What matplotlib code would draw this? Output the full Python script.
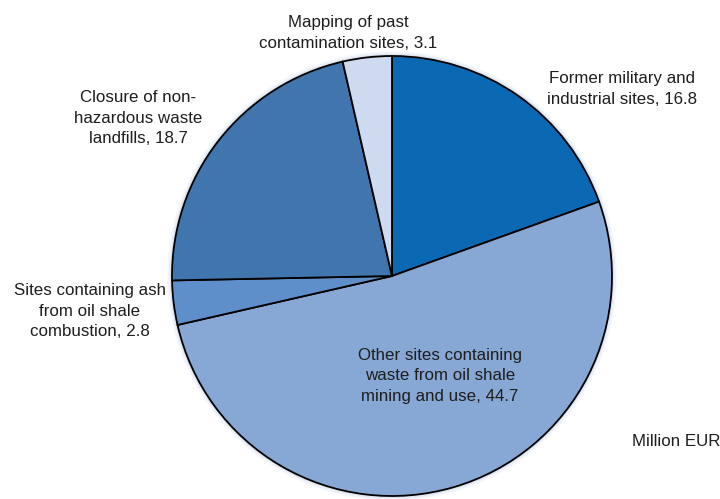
import matplotlib
matplotlib.use("Agg")
import matplotlib.pyplot as plt
from matplotlib.patches import Circle
from matplotlib import font_manager

# Funding by type of site (million EUR), drawn clockwise from 12 o'clock
categories = [
    "Former military and\nindustrial sites",
    "Other sites containing\nwaste from oil shale\nmining and use",
    "Sites containing ash\nfrom oil shale\ncombustion",
    "Closure of non-\nhazardous waste\nlandfills",
    "Mapping of past\ncontamination sites",
]
values = [16.8, 44.7, 2.8, 18.7, 3.1]
colors = ["#0b69b4", "#87a7d4", "#5e8fcb", "#4075ad", "#cddaef"]

names = {f.name for f in font_manager.fontManager.ttflist}
family = [f for f in ["Liberation Sans Narrow", "Liberation Sans", "DejaVu Sans"] if f in names]

W, H = 720, 499
fig = plt.figure(figsize=(W / 100, H / 100), dpi=100)
ax = fig.add_axes([0, 0, 1, 1])

cx, cy, r = 392, H - 276, 220

# soft glow around the rim
for k, a in [(5, 0.05), (3.5, 0.08), (2, 0.12)]:
    ax.add_patch(Circle((cx, cy), r + k, color="#6f93c8", alpha=a, lw=0, zorder=0))

ax.pie(values, colors=colors, startangle=90, counterclock=False,
       center=(cx, cy), radius=r, frame=True,
       wedgeprops=dict(edgecolor="black", linewidth=1.3))
ax.set_xlim(0, W)
ax.set_ylim(0, H)
ax.set_aspect("equal")
ax.axis("off")

# label anchor points (x, y from top)
label_pos = [(622, 89), (440, 376), (90, 311), (138, 118), (348, 33)]
for name, v, (x, y) in zip(categories, values, label_pos):
    ax.text(x, H - y, f"{name}, {v}", ha="center", va="center",
            fontsize=12.2, color="#1e1e1e", family=family, linespacing=1.42)

ax.text(676, H - 441, "Million EUR", ha="center", va="center",
        fontsize=12.2, color="#1e1e1e", family=family)

fig.savefig("out.png", dpi=100)
